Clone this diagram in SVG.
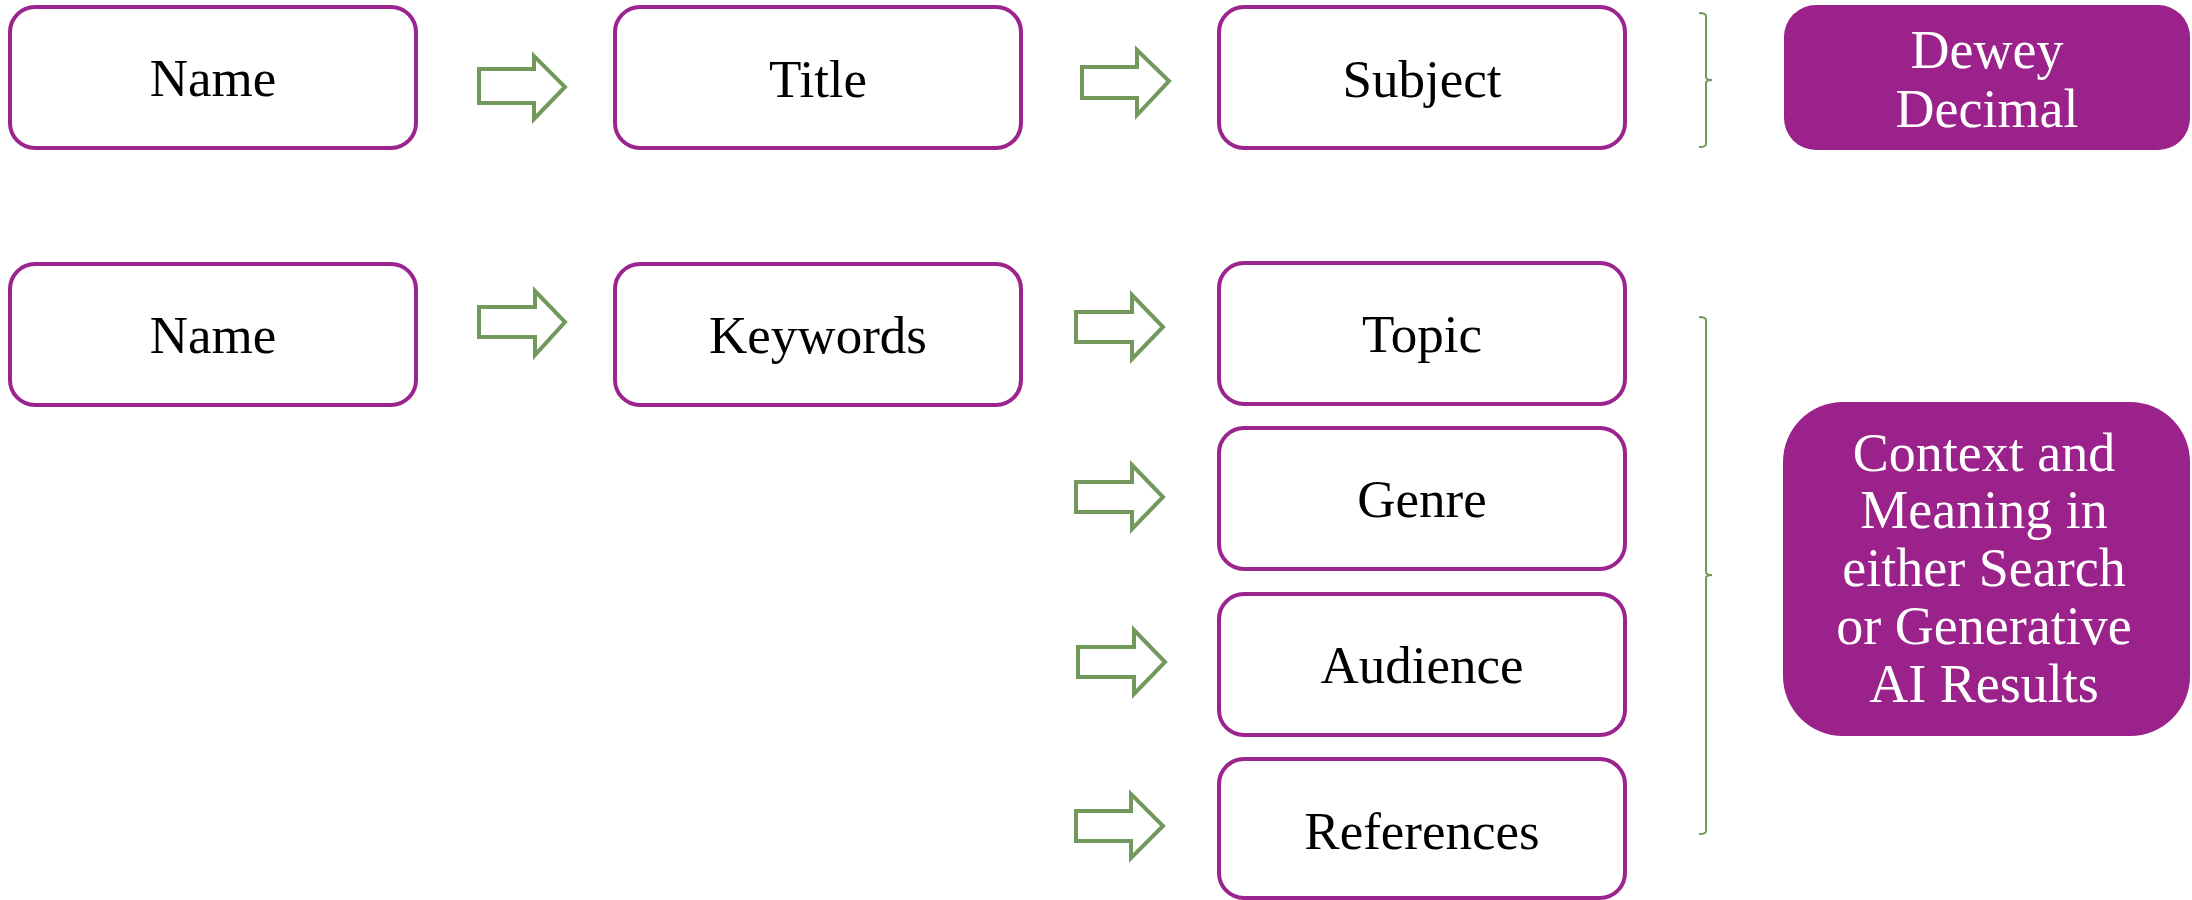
<svg xmlns="http://www.w3.org/2000/svg" width="2192" height="900" viewBox="0 0 2192 900">
<style>
.box{fill:#fff;stroke:#9B248F;stroke-width:4}
.fbox{fill:#9B218B;stroke:none}
.t{font-family:"Liberation Serif","Times New Roman",serif;font-size:53px;fill:#000;text-anchor:middle}
.w{font-family:"Liberation Serif","Times New Roman",serif;font-size:54px;fill:#fff;text-anchor:middle}
.arr{fill:#fff;stroke:#72995B;stroke-width:4;stroke-linejoin:miter}
.br{fill:none;stroke:#72995B;stroke-width:2}
</style>
<rect width="2192" height="900" fill="#fff"/>
<g id="name1"><rect class="box" x="10" y="7" width="406" height="141" rx="25"/><text class="t" x="213" y="96">Name</text></g>
<g id="title"><rect class="box" x="615" y="7" width="406" height="141" rx="25"/><text class="t" x="818" y="97">Title</text></g>
<g id="subject"><rect class="box" x="1219" y="7" width="406" height="141" rx="25"/><text class="t" x="1422" y="97">Subject</text></g>
<g id="dewey"><rect class="fbox" x="1784" y="5" width="406" height="145" rx="32"/><text class="w" x="1987" y="68">Dewey</text><text class="w" x="1987" y="127">Decimal</text></g>
<g id="name2"><rect class="box" x="10" y="264" width="406" height="141" rx="25"/><text class="t" x="213" y="353">Name</text></g>
<g id="keywords"><rect class="box" x="615" y="264" width="406" height="141" rx="25"/><text class="t" x="818" y="353">Keywords</text></g>
<g id="topic"><rect class="box" x="1219" y="263" width="406" height="141" rx="25"/><text class="t" x="1422" y="352">Topic</text></g>
<g id="genre"><rect class="box" x="1219" y="428" width="406" height="141" rx="25"/><text class="t" x="1422" y="517">Genre</text></g>
<g id="audience"><rect class="box" x="1219" y="594" width="406" height="141" rx="25"/><text class="t" x="1422" y="683">Audience</text></g>
<g id="references"><rect class="box" x="1219" y="759" width="406" height="139" rx="25"/><text class="t" x="1422" y="849">References</text></g>
<g id="context"><rect class="fbox" x="1783" y="402" width="407" height="334" rx="60"/>
<text class="w" x="1984" y="471">Context and</text>
<text class="w" x="1984" y="528">Meaning in</text>
<text class="w" x="1984" y="586">either Search</text>
<text class="w" x="1984" y="644">or Generative</text>
<text class="w" x="1984" y="702">AI Results</text></g>
<g id="connectors">
<polygon class="arr" points="479,69 534,69 534,56 565,87 534,119 534,103 479,103"/>
<polygon class="arr" points="1082,67 1137,67 1137,50 1169,81 1137,115 1137,98 1082,98"/>
<polygon class="arr" points="479,307 535,307 535,291 565,322 535,355 535,337 479,337"/>
<polygon class="arr" points="1076,312 1132,312 1132,295 1163,327 1132,359 1132,342 1076,342"/>
<polygon class="arr" points="1076,482 1132,482 1132,465 1163,497 1132,529 1132,512 1076,512"/>
<polygon class="arr" points="1078,647 1134,647 1134,630 1165,662 1134,694 1134,677 1078,677"/>
<polygon class="arr" points="1076,811 1131,811 1131,794 1163,826 1131,858 1131,841 1076,841"/>
<path class="br" d="M1699,13 Q1706,13 1706,16 V77 Q1706,80 1712,80 Q1706,80 1706,83 V144 Q1706,147 1699,147"/>
<path class="br" d="M1699,317 Q1706,317 1706,320 V572 Q1706,575 1712,575 Q1706,575 1706,578 V831 Q1706,834 1699,834"/>
</g>
</svg>
